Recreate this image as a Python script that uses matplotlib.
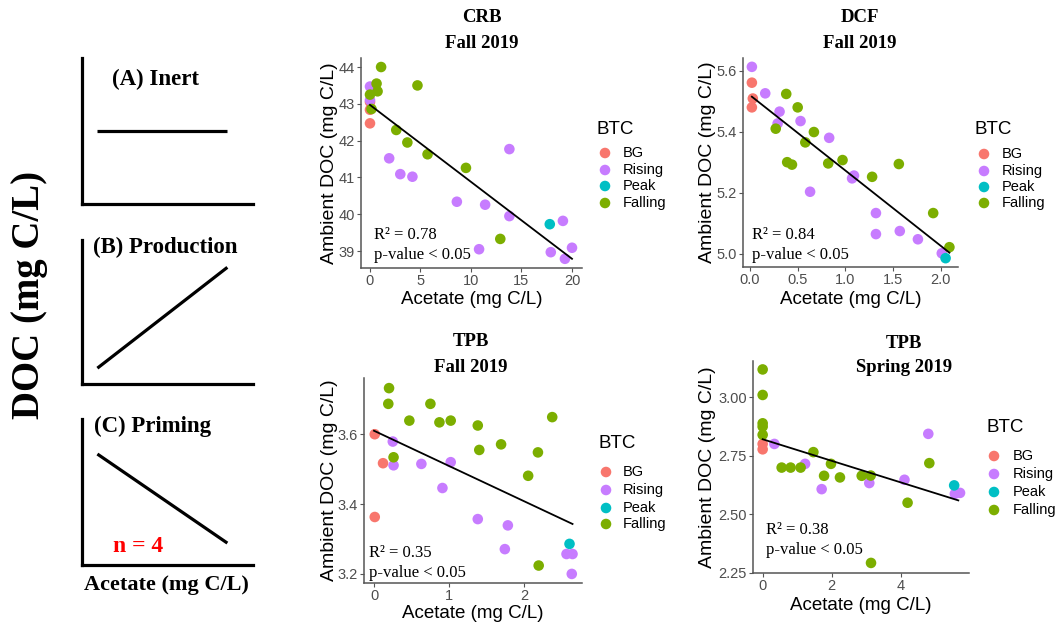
import matplotlib
matplotlib.use("Agg")
import matplotlib.pyplot as plt

W, H = 1059, 626

SANS = "Liberation Sans"
SERIF = "Liberation Serif"
TICK_GRAY = "#4d4d4d"
AXIS_GRAY = "#555555"

GROUPS = ["BG", "Rising", "Peak", "Falling"]
COLORS = {"BG": "#F8766D", "Rising": "#C77CFF", "Peak": "#00BFC4", "Falling": "#7CAE00"}

# --- CRB, Fall 2019 ---
crb_bg_x = [0, 0, 0]
crb_bg_y = [42.47, 42.84, 43.05]
crb_rising_x = [0, 0, 1.9, 3.0, 4.2, 8.6, 11.4, 10.8, 13.8, 13.8, 17.9, 19.1, 19.3, 20.0]
crb_rising_y = [43.47, 43.1, 41.52, 41.09, 41.02, 40.34, 40.26, 39.05, 41.77, 39.95, 38.97, 39.82, 38.79, 39.09]
crb_peak_x = [17.8]
crb_peak_y = [39.73]
crb_falling_x = [1.1, 0.65, 0.75, 0, 0.15, 4.7, 2.6, 3.7, 5.7, 9.5, 12.9]
crb_falling_y = [44.0, 43.55, 43.34, 43.25, 42.86, 43.5, 42.29, 41.95, 41.63, 41.26, 39.33]
crb_fit_x = [0, 20.0]
crb_fit_y = [42.97, 38.79]
crb_r2 = 0.78

# --- DCF, Fall 2019 ---
dcf_bg_x = [0.02, 0.03, 0.02]
dcf_bg_y = [5.561, 5.509, 5.48]
dcf_rising_x = [0.02, 0.16, 0.31, 0.29, 0.53, 0.83, 0.63, 1.07, 1.09, 1.32, 1.32, 1.57, 1.76, 2.01]
dcf_rising_y = [5.613, 5.526, 5.466, 5.427, 5.435, 5.38, 5.203, 5.247, 5.256, 5.133, 5.064, 5.074, 5.047, 5.001]
dcf_peak_x = [2.05]
dcf_peak_y = [4.985]
dcf_falling_x = [0.38, 0.5, 0.27, 0.67, 0.58, 0.39, 0.44, 0.82, 0.97, 1.28, 1.56, 1.92, 2.09]
dcf_falling_y = [5.524, 5.48, 5.41, 5.399, 5.365, 5.3, 5.292, 5.296, 5.307, 5.252, 5.294, 5.133, 5.021]
dcf_fit_x = [0.02, 2.09]
dcf_fit_y = [5.515, 5.003]
dcf_r2 = 0.84

# --- TPB, Fall 2019 ---
tpbf_bg_x = [0.01, 0.12, 0.01]
tpbf_bg_y = [3.6, 3.517, 3.363]
tpbf_rising_x = [0.25, 0.26, 0.63, 0.91, 1.02, 1.38, 1.78, 1.74, 2.56, 2.64, 2.63]
tpbf_rising_y = [3.579, 3.511, 3.515, 3.446, 3.52, 3.357, 3.339, 3.271, 3.257, 3.257, 3.2]
tpbf_peak_x = [2.6]
tpbf_peak_y = [3.286]
tpbf_falling_x = [0.2, 0.19, 0.26, 0.47, 0.75, 0.87, 1.02, 1.38, 1.4, 1.69, 2.05, 2.18, 2.37, 2.19]
tpbf_falling_y = [3.732, 3.687, 3.534, 3.639, 3.687, 3.634, 3.639, 3.625, 3.555, 3.571, 3.481, 3.548, 3.649, 3.224]
tpbf_fit_x = [0, 2.64]
tpbf_fit_y = [3.61, 3.343]
tpbf_r2 = 0.35

# --- TPB, Spring 2019 ---
tpbs_bg_x = [0, 0]
tpbs_bg_y = [2.801, 2.778]
tpbs_rising_x = [0.34, 1.23, 1.71, 3.09, 4.11, 4.8, 5.57, 5.72]
tpbs_rising_y = [2.801, 2.716, 2.608, 2.634, 2.648, 2.844, 2.588, 2.592]
tpbs_peak_x = [5.55]
tpbs_peak_y = [2.624]
tpbs_falling_x = [0, 0, 0, 0, 0, 0.55, 0.81, 1.1, 1.47, 1.98, 1.78, 2.24, 2.87, 3.13, 4.2, 4.83, 3.14]
tpbs_falling_y = [3.119, 3.01, 2.889, 2.875, 2.84, 2.70, 2.70, 2.70, 2.766, 2.716, 2.665, 2.658, 2.665,
                  2.666, 2.55, 2.719, 2.293]
tpbs_fit_x = [0, 5.67]
tpbs_fit_y = [2.821, 2.56]
tpbs_r2 = 0.38

# conceptual response shapes (unitless)
concept_x = [0.09, 0.85]
inert_y = [0.5, 0.5]
production_y = [0.11, 0.81]
priming_y = [0.76, 0.15]


def px_axes(fig, left, top, right, bottom):
    return fig.add_axes([left / W, 1 - bottom / H, (right - left) / W, (bottom - top) / H])


def ftext(fig, x, y, s, **kw):
    return fig.text(x / W, 1 - y / H, s, **kw)


fig = plt.figure(figsize=(W / 100, H / 100), dpi=100)

# ---------------- conceptual panels on the left ----------------
concepts = [
    ((82, 58, 253, 204), inert_y, "(A) Inert", (155, 79)),
    ((82, 240, 253, 384), production_y, "(B) Production", (165, 247)),
    ((82, 419, 253, 565), priming_y, "(C) Priming", (153, 426)),
]
for box, ys, label, (lx, ly) in concepts:
    ax = px_axes(fig, *box)
    ax.plot(concept_x, ys, color="black", lw=2.3, solid_capstyle="butt")
    ax.set_xlim(0, 1)
    ax.set_ylim(0, 1)
    for side in ["top", "right"]:
        ax.spines[side].set_visible(False)
    for side in ["left", "bottom"]:
        ax.spines[side].set_linewidth(2.3)
    ax.set_xticks([])
    ax.set_yticks([])
    ftext(fig, lx, ly, label, family=SERIF, weight="bold", fontsize=16.5, ha="center", va="center")

ftext(fig, 138, 547, "n = 4", family=SERIF, weight="bold", fontsize=17, color="#ff0000",
      ha="center", va="center")
ftext(fig, 166, 585, "Acetate (mg C/L)", family=SERIF, weight="bold", fontsize=16, ha="center", va="center")
ftext(fig, 30, 295, "DOC (mg C/L)", family=SERIF, weight="bold", fontsize=28, rotation=90,
      ha="center", va="center")

# ---------------- scatter panels ----------------
panels = [
    dict(box=(361, 58, 582, 268), xlim=(-0.89, 20.99), ylim=(38.54, 44.245),
         xticks=[0, 5, 10, 15, 20], yticks=[39, 40, 41, 42, 43, 44], yfmt="{:g}", xfmt="{:g}",
         data={"BG": (crb_bg_x, crb_bg_y), "Rising": (crb_rising_x, crb_rising_y),
               "Peak": (crb_peak_x, crb_peak_y), "Falling": (crb_falling_x, crb_falling_y)},
         fit=(crb_fit_x, crb_fit_y), r2=crb_r2, r2_pos=(374, 235),
         title=("CRB", "Fall 2019"), title_pos=(482, 18, 43),
         ylab_x=330, xlab_y=300,
         legend=(597, 129, 605, 623, [153, 170, 186, 203])),
    dict(box=(743, 58, 958, 267), xlim=(-0.073, 2.18), ylim=(4.956, 5.642),
         xticks=[0, 0.5, 1.0, 1.5, 2.0], yticks=[5.0, 5.2, 5.4, 5.6], yfmt="{:.1f}", xfmt="{:.1f}",
         data={"BG": (dcf_bg_x, dcf_bg_y), "Rising": (dcf_rising_x, dcf_rising_y),
               "Peak": (dcf_peak_x, dcf_peak_y), "Falling": (dcf_falling_x, dcf_falling_y)},
         fit=(dcf_fit_x, dcf_fit_y), r2=dcf_r2, r2_pos=(752, 235),
         title=("DCF", "Fall 2019"), title_pos=(860, 18, 43),
         ylab_x=708, xlab_y=300,
         legend=(975, 129, 984, 1002, [154, 171, 187, 203])),
    dict(box=(364, 378, 582, 583), xlim=(-0.133, 2.766), ylim=(3.174, 3.761),
         xticks=[0, 1, 2], yticks=[3.2, 3.4, 3.6], yfmt="{:.1f}", xfmt="{:g}",
         data={"BG": (tpbf_bg_x, tpbf_bg_y), "Rising": (tpbf_rising_x, tpbf_rising_y),
               "Peak": (tpbf_peak_x, tpbf_peak_y), "Falling": (tpbf_falling_x, tpbf_falling_y)},
         fit=(tpbf_fit_x, tpbf_fit_y), r2=tpbf_r2, r2_pos=(369, 553),
         title=("TPB", "Fall 2019"), title_pos=(471, 342, 367),
         ylab_x=330, xlab_y=613,
         legend=(598, 443, 606, 623, [472, 490, 508, 524])),
    dict(box=(753, 361, 969, 573), xlim=(-0.28, 5.98), ylim=(2.251, 3.155),
         xticks=[0, 2, 4], yticks=[2.25, 2.50, 2.75, 3.00], yfmt="{:.2f}", xfmt="{:g}",
         data={"BG": (tpbs_bg_x, tpbs_bg_y), "Rising": (tpbs_rising_x, tpbs_rising_y),
               "Peak": (tpbs_peak_x, tpbs_peak_y), "Falling": (tpbs_falling_x, tpbs_falling_y)},
         fit=(tpbs_fit_x, tpbs_fit_y), r2=tpbs_r2, r2_pos=(766, 530),
         title=("TPB", "Spring 2019"), title_pos=(904, 343, 368),
         ylab_x=708, xlab_y=605,
         legend=(987, 427, 994, 1013, [456, 474, 492, 510])),
]

# full-figure overlay in pixel units, used for the legend keys
overlay = fig.add_axes([0, 0, 1, 1], zorder=-1)
overlay.set_xlim(0, W)
overlay.set_ylim(H, 0)
overlay.axis("off")

for p in panels:
    ax = px_axes(fig, *p["box"])
    for g in GROUPS:
        xs, ys = p["data"][g]
        ax.scatter(xs, ys, s=58, color=COLORS[g], edgecolors="none", zorder=2)
    ax.plot(p["fit"][0], p["fit"][1], color="black", lw=1.3, zorder=3)
    ax.set_xlim(*p["xlim"])
    ax.set_ylim(*p["ylim"])
    ax.set_xticks(p["xticks"])
    ax.set_xticklabels([p["xfmt"].format(v) for v in p["xticks"]])
    ax.set_yticks(p["yticks"])
    ax.set_yticklabels([p["yfmt"].format(v) for v in p["yticks"]])
    for side in ["top", "right"]:
        ax.spines[side].set_visible(False)
    for side in ["left", "bottom"]:
        ax.spines[side].set_color(AXIS_GRAY)
        ax.spines[side].set_linewidth(1.1)
    ax.tick_params(length=3, width=0.8, color=AXIS_GRAY, labelcolor=TICK_GRAY, labelsize=10.5, pad=1.5)
    for lab in ax.get_xticklabels() + ax.get_yticklabels():
        lab.set_family(SANS)
    ax.patch.set_alpha(0)

    l, t, r, b = p["box"]
    ftext(fig, p["ylab_x"], (t + b) / 2, "Ambient DOC (mg C/L)", family=SANS, fontsize=14,
          rotation=90, ha="center", va="center")
    ftext(fig, (l + r) / 2, p["xlab_y"], "Acetate (mg C/L)", family=SANS, fontsize=13.5,
          ha="center", va="center")

    tx, ty1, ty2 = p["title_pos"]
    ftext(fig, tx, ty1, p["title"][0], family=SERIF, weight="bold", fontsize=13.5, ha="center", va="center")
    ftext(fig, tx, ty2, p["title"][1], family=SERIF, weight="bold", fontsize=13.5, ha="center", va="center")

    rx, ry = p["r2_pos"]
    ftext(fig, rx, ry, f"R\u00b2 = {p['r2']:.2f}", family=SERIF, fontsize=12, ha="left", va="center")
    ftext(fig, rx, ry + 20, "p-value < 0.05", family=SERIF, fontsize=12, ha="left", va="center")

    bx, by, dot_x, txt_x, rows = p["legend"]
    ftext(fig, bx, by, "BTC", family=SANS, fontsize=13.5, ha="left", va="center")
    for g, yy in zip(GROUPS, rows):
        overlay.scatter([dot_x], [yy], s=58, color=COLORS[g], edgecolors="none")
        ftext(fig, txt_x, yy, g, family=SANS, fontsize=10.5, ha="left", va="center")

fig.savefig("out.png", dpi=100)
